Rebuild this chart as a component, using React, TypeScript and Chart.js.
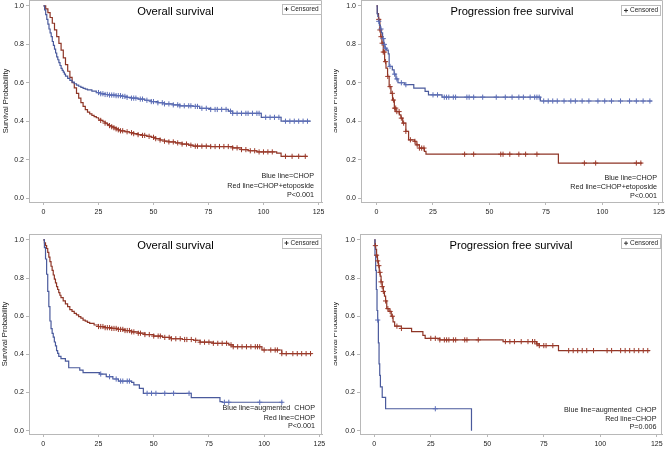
import React, { useEffect, useRef } from 'react';
import { Chart, registerables } from 'chart.js';

Chart.register(...registerables);

const FONT = "'Liberation Sans', Arial, Helvetica, sans-serif";
const BLUE = '#4a5a9c';
const BLUE_MARK = '#5d6fb8';
const RED = '#8e3526';
const RED_MARK = '#9c3a2a';
const AXIS = '#b8b8b8';
const TEXT = '#222222';

const xTicks = [0, 25, 50, 75, 100, 125];
const yTicks = [0, 0.2, 0.4, 0.6, 0.8, 1.0];

// ---- Panel A: Overall survival, CHOP (blue) vs CHOP+etoposide (red)
const osA_blueT = [0,0.5,1,1.5,2,2.5,3,3.5,4,4.5,5,5.5,6,6.5,7,7.5,8,8.5,9,9.5,10,11,12,13,14,15,16,17,18,19,20,22,24,26,28,30,33,36,38,40,43,46,49,52,55,59,62,68,71,76,84,86,99,108,121.5];
const osA_blueS = [1,0.98,0.955,0.93,0.905,0.88,0.86,0.84,0.815,0.795,0.775,0.755,0.735,0.72,0.705,0.69,0.675,0.665,0.655,0.645,0.635,0.623,0.612,0.603,0.595,0.588,0.582,0.576,0.571,0.567,0.563,0.556,0.549,0.543,0.539,0.536,0.533,0.529,0.524,0.52,0.515,0.509,0.502,0.496,0.49,0.485,0.48,0.477,0.467,0.461,0.452,0.441,0.42,0.40,0.40];
const osA_blueCens = [25,26,27,28,29,30,31,32,33,34,35,36,37,38,40,41,42,44,45,47,49,50,52,54,55,57,59,61,62,64,66,67,69,70,72,74,76,78,79,81,83,85,86,88,90,92,93,95,97,98,101,103,105,107,110,112,114,116,118,120];
const osA_redT = [0,1,2,3,4,5,6,7,8,9,10,11,12,13,14,15,16,17,18,19,20,21,22,23,24,25,26,27,28,29,30,31,32,33,34,35,37,39,41,43,45,47,49,51,53,55,57,60,63,66,68,76,86,90,93,97,106,108,120];
const osA_redS = [1,0.985,0.965,0.94,0.91,0.875,0.84,0.805,0.77,0.73,0.695,0.66,0.628,0.6,0.573,0.545,0.52,0.497,0.477,0.46,0.447,0.438,0.43,0.424,0.418,0.41,0.404,0.397,0.39,0.383,0.377,0.371,0.366,0.36,0.355,0.35,0.345,0.34,0.335,0.33,0.326,0.321,0.316,0.309,0.302,0.296,0.292,0.287,0.281,0.275,0.27,0.268,0.261,0.252,0.246,0.24,0.234,0.217,0.217];
const osA_redCens = [26,28,30,31,32,33,34,35,36,38,40,41,43,45,46,48,50,51,53,55,57,59,61,63,65,67,69,70,72,74,76,78,80,82,84,86,88,90,92,94,96,98,100,102,104,110,113,116,119];

// ---- Panel B: Progression free survival, CHOP (blue) vs CHOP+etoposide (red)
const pfsB_blueT = [0,0.3,0.6,0.9,1.3,1.7,2.2,2.7,3.2,3.7,4.5,5.2,5.6,7,7.8,8.6,9.5,12.5,16.5,21.5,23,29,72.5,122];
const pfsB_blueS = [1,0.96,0.945,0.92,0.9,0.88,0.86,0.83,0.8,0.78,0.77,0.75,0.685,0.667,0.645,0.62,0.6,0.59,0.572,0.555,0.537,0.525,0.505,0.505];
const pfsB_blueCens = [1,2,3,3.5,4,6,8,9,11,13,25,27,30,31,32,34,35,40,41,43,47,53,57,60,63,65,68,70,71,72,74,76,78,80,83,86,88,91,94,98,101,104,108,112,115,118,121];
const pfsB_redT = [0,0.4,0.9,1.5,1.9,2.4,3,3.6,4.2,4.9,5.6,6.4,7.1,7.9,8.6,10.1,10.8,11.6,13,14.2,16.8,17.5,19,21.2,21.9,80.5,117.6];
const pfsB_redS = [1,0.96,0.93,0.875,0.84,0.806,0.76,0.71,0.676,0.633,0.58,0.545,0.51,0.468,0.45,0.433,0.416,0.39,0.347,0.303,0.295,0.277,0.26,0.243,0.228,0.182,0.182];
const pfsB_redCens = [1,1.5,2,2.5,3,3.5,4,5,6,7,7.5,8,8.5,9,10,11,12,13,15,17,18,19,20,21,39,43,55,56,59,63,66,71,92,97,115,117];

// ---- Panel C: Overall survival, augmented CHOP (blue) vs CHOP (red)
const osC_blueT = [0,0.5,1,1.5,2,2.5,3,3.5,4,4.5,5,5.5,6,6.5,7,8,10,11.5,16.5,18,25.5,28.5,31.5,34,40,41,43.5,45.3,67,80,81,108.4];
const osC_blueS = [1,0.96,0.9,0.82,0.73,0.65,0.575,0.535,0.51,0.49,0.465,0.445,0.42,0.405,0.39,0.378,0.365,0.33,0.318,0.304,0.297,0.283,0.271,0.26,0.253,0.24,0.222,0.196,0.173,0.152,0.149,0.149];
const osC_blueCens = [26,30,33,35,36,38,39,47,49,51,55,59,66,82,84,98,108];
const osC_redT = [0,0.5,1,1.5,2,2.5,3,3.5,4,4.5,5,5.5,6,6.5,7,7.5,8,9,10,11,12,13,14,15,16,17,18,19,20,21,23,25,28,31,34,37,40,43,46,50,54,58,63,68,71,77,84,86,99,108,121.5];
const osC_redS = [1,0.985,0.97,0.955,0.935,0.91,0.886,0.862,0.84,0.816,0.795,0.775,0.755,0.74,0.724,0.71,0.698,0.68,0.665,0.65,0.635,0.625,0.615,0.607,0.598,0.59,0.58,0.574,0.568,0.563,0.554,0.546,0.54,0.536,0.531,0.525,0.518,0.511,0.504,0.496,0.489,0.482,0.478,0.474,0.464,0.458,0.45,0.44,0.423,0.404,0.404];
const osC_redCens = [25,26,27,28,29,30,31,32,33,34,35,36,37,38,39,40,41,43,44,46,48,50,52,53,55,57,58,60,62,64,65,67,69,71,73,75,77,79,81,83,85,86,88,90,92,94,96,97,98,100,103,105,106,108,110,113,115,117,119,121];

// ---- Panel D: Progression free survival, augmented CHOP (blue) vs CHOP (red)
const pfsD_blueT = [0,0.3,0.6,0.9,1.2,1.5,1.8,2.1,2.4,2.7,3.5,5,43];
const pfsD_blueS = [1,0.92,0.84,0.74,0.63,0.58,0.46,0.35,0.29,0.23,0.175,0.115,0];
const pfsD_blueCens = [1.5, 27];
const pfsD_redT = [0,0.3,0.6,1,1.4,1.8,2.2,2.6,3,3.5,4,4.5,5,5.5,6.5,7.5,8.3,9,12,16.5,21.5,22.5,29,57,71.8,73,81.5,122];
const pfsD_redS = [1,0.97,0.95,0.92,0.89,0.865,0.83,0.81,0.78,0.755,0.73,0.705,0.68,0.64,0.625,0.6,0.57,0.548,0.536,0.519,0.5,0.484,0.476,0.467,0.455,0.446,0.42,0.42];
const pfsD_redCens = [0.5,1,1.5,2,2.5,3,3.5,4,5,6,7,8,10,12,25,27,29,31,32,33,35,36,40,41,46,58,60,62,65,68,70,71,72,73,75,76,79,86,88,90,92,94,97,103,105,109,111,113,115,117,119,121];

const titleOS = 'Overall survival';
const titlePFS = 'Progression free survival';
const notesTop = ['Blue line=CHOP', 'Red line=CHOP+etoposide', 'P<0.001'];
const notesC = ['Blue line=augmented  CHOP', 'Red line=CHOP', 'P<0.001'];
const notesD = ['Blue line=augmented  CHOP', 'Red line=CHOP', 'P=0.006'];
const yTitle = 'Survival Probability';
const legendText = 'Censored';

function stepAt(t: number[], s: number[], x: number) {
  let v = s[0];
  for (let i = 0; i < t.length; i++) if (t[i] <= x) v = s[i];
  return v;
}

type Curve = { t: number[]; s: number[]; cens: number[]; color: string; mark: string };
type PanelCfg = {
  left: number; top: number; w: number; h: number;
  area: { l: number; t: number; r: number; b: number };
  xMin: number; xMax: number; yMin: number; yMax: number;
  title: string; titleDy: number;
  notes: string[]; noteRight: number; noteDy: number[];
  legendRight: number; legendTop: number;
  yTitleX: number;
  curves: Curve[];
};

const panels: PanelCfg[] = [
  {
    left: 0, top: 0, w: 334, h: 224, area: { l: 29, t: 0, r: 322, b: 202 },
    xMin: -6.59, xMax: 126.6, yMin: -0.0208, yMax: 1.031,
    title: titleOS, titleDy: 12.3, notes: notesTop, noteRight: 8, noteDy: [26, 16, 7],
    legendRight: 1.5, legendTop: 3.5, yTitleX: 5.5,
    curves: [
      { t: osA_blueT, s: osA_blueS, cens: osA_blueCens, color: BLUE, mark: BLUE_MARK },
      { t: osA_redT, s: osA_redS, cens: osA_redCens, color: RED, mark: RED_MARK },
    ],
  },
  {
    left: 334, top: 0, w: 331, h: 224, area: { l: 27, t: 0, r: 329, b: 202 },
    xMin: -6.86, xMax: 126.8, yMin: -0.0208, yMax: 1.031,
    title: titlePFS, titleDy: 12.3, notes: notesTop, noteRight: 6, noteDy: [24, 14.5, 6],
    legendRight: 3, legendTop: 5, yTitleX: 1,
    curves: [
      { t: pfsB_blueT, s: pfsB_blueS, cens: pfsB_blueCens, color: BLUE, mark: BLUE_MARK },
      { t: pfsB_redT, s: pfsB_redS, cens: pfsB_redCens, color: RED, mark: RED_MARK },
    ],
  },
  {
    left: 0, top: 224, w: 334, h: 225, area: { l: 29, t: 10, r: 322, b: 210 },
    xMin: -6.48, xMax: 126.2, yMin: -0.0173, yMax: 1.031,
    title: titleOS, titleDy: 11.7, notes: notesC, noteRight: 7, noteDy: [25.5, 16.2, 7.8],
    legendRight: 1.5, legendTop: 3.5, yTitleX: 5,
    curves: [
      { t: osC_blueT, s: osC_blueS, cens: osC_blueCens, color: BLUE, mark: BLUE_MARK },
      { t: osC_redT, s: osC_redS, cens: osC_redCens, color: RED, mark: RED_MARK },
    ],
  },
  {
    left: 334, top: 224, w: 331, h: 225, area: { l: 26, t: 10, r: 328, b: 210 },
    xMin: -6.33, xMax: 127.3, yMin: -0.0173, yMax: 1.031,
    title: titlePFS, titleDy: 11.7, notes: notesD, noteRight: 5.5, noteDy: [24, 15, 7],
    legendRight: 2, legendTop: 3.7, yTitleX: 1,
    curves: [
      { t: pfsD_blueT, s: pfsD_blueS, cens: pfsD_blueCens, color: BLUE, mark: BLUE_MARK },
      { t: pfsD_redT, s: pfsD_redS, cens: pfsD_redCens, color: RED, mark: RED_MARK },
    ],
  },
];

function Panel({ cfg }: { cfg: PanelCfg }) {
  const ref = useRef<HTMLCanvasElement>(null);
  useEffect(() => {
    const canvas = ref.current;
    if (!canvas) return;
    const datasets: any[] = [];
    cfg.curves.forEach((c) => {
      datasets.push({
        type: 'line',
        data: c.t.map((t, i) => ({ x: t, y: c.s[i] })),
        borderColor: c.color,
        borderWidth: 1.2,
        pointRadius: 0,
        stepped: 'before',
        fill: false,
        order: 2,
      });
      datasets.push({
        type: 'scatter',
        data: c.cens.map((t) => ({ x: t, y: stepAt(c.t, c.s, t) })),
        pointStyle: 'cross',
        pointRadius: 2.6,
        borderColor: c.mark,
        backgroundColor: c.mark,
        borderWidth: 1,
        order: 1,
      });
    });
    const a = cfg.area;
    const overlay = {
      id: 'overlay',
      afterDraw(chart: any) {
        const ctx = chart.ctx;
        const ca = chart.chartArea;
        ctx.save();
        ctx.strokeStyle = AXIS;
        ctx.lineWidth = 1;
        ctx.beginPath();
        ctx.moveTo(ca.left, ca.top + 0.5);
        ctx.lineTo(ca.right - 0.5, ca.top + 0.5);
        ctx.lineTo(ca.right - 0.5, ca.bottom);
        ctx.stroke();
        ctx.fillStyle = '#000';
        ctx.font = `11.2px ${FONT}`;
        ctx.textAlign = 'center';
        ctx.textBaseline = 'middle';
        ctx.fillText(cfg.title, (ca.left + ca.right) / 2, ca.top + cfg.titleDy);
        const bw = 39, bh = 10;
        const bx = ca.right - cfg.legendRight - bw;
        const by = ca.top + cfg.legendTop;
        ctx.fillStyle = '#fff';
        ctx.fillRect(bx, by, bw, bh);
        ctx.strokeStyle = '#bcbcbc';
        ctx.strokeRect(Math.round(bx) + 0.5, Math.round(by) + 0.5, bw, bh);
        ctx.strokeStyle = '#333';
        ctx.beginPath();
        ctx.moveTo(bx + 3, by + bh / 2 + 0.5);
        ctx.lineTo(bx + 7, by + bh / 2 + 0.5);
        ctx.moveTo(bx + 5, by + bh / 2 - 1.5);
        ctx.lineTo(bx + 5, by + bh / 2 + 2.5);
        ctx.stroke();
        ctx.fillStyle = '#222';
        ctx.font = `6.5px ${FONT}`;
        ctx.textAlign = 'left';
        ctx.fillText(legendText, bx + 9, by + bh / 2 + 0.5);
        ctx.font = `7.2px ${FONT}`;
        ctx.textAlign = 'right';
        ctx.fillStyle = TEXT;
        cfg.notes.forEach((n, i) => {
          ctx.fillText(n, ca.right - cfg.noteRight, ca.bottom - cfg.noteDy[i]);
        });
        ctx.translate(cfg.yTitleX, (ca.top + ca.bottom) / 2);
        ctx.rotate(-Math.PI / 2);
        ctx.font = `7.6px ${FONT}`;
        ctx.textAlign = 'center';
        ctx.textBaseline = 'middle';
        ctx.fillText(yTitle, 0, 0);
        ctx.restore();
      },
    };
    const zeroPad = (ax: any) => {
      ax.paddingLeft = 0;
      ax.paddingRight = 0;
      ax.paddingTop = 0;
      ax.paddingBottom = 0;
    };
    const chart = new Chart(canvas, {
      type: 'line',
      data: { datasets },
      options: {
        animation: false,
        responsive: false,
        devicePixelRatio: 1,
        layout: { padding: { left: 0, top: a.t, right: cfg.w - a.r, bottom: 0 }, autoPadding: false },
        plugins: { legend: { display: false }, tooltip: { enabled: false }, title: { display: false } },
        scales: {
          x: {
            type: 'linear',
            min: cfg.xMin,
            max: cfg.xMax,
            afterBuildTicks: (ax: any) => {
              ax.ticks = xTicks.map((v) => ({ value: v }));
            },
            afterFit: (ax: any) => {
              ax.height = cfg.h - a.b;
              zeroPad(ax);
            },
            grid: { display: true, drawOnChartArea: false, drawTicks: true, tickLength: 3, color: AXIS },
            border: { display: true, color: AXIS },
            ticks: {
              font: { family: FONT, size: 7 },
              color: TEXT,
              padding: 3,
              maxRotation: 0,
              autoSkip: false,
              callback: (v: any) => String(v),
            },
          },
          y: {
            type: 'linear',
            min: cfg.yMin,
            max: cfg.yMax,
            afterBuildTicks: (ax: any) => {
              ax.ticks = yTicks.map((v) => ({ value: v }));
            },
            afterFit: (ax: any) => {
              ax.width = a.l;
              zeroPad(ax);
            },
            grid: { display: true, drawOnChartArea: false, drawTicks: true, tickLength: 3, color: AXIS },
            border: { display: true, color: AXIS },
            ticks: {
              font: { family: FONT, size: 7 },
              color: TEXT,
              padding: 2,
              autoSkip: false,
              callback: (v: any) => Number(v).toFixed(1),
            },
          },
        },
      } as any,
      plugins: [overlay],
    });
    return () => chart.destroy();
  }, [cfg]);
  return (
    <canvas
      ref={ref}
      width={cfg.w}
      height={cfg.h}
      style={{ position: 'absolute', left: cfg.left, top: cfg.top, width: cfg.w, height: cfg.h }}
    />
  );
}

export default function App() {
  return (
    <div style={{ position: 'absolute', left: 0, top: 0, width: 665, height: 449, background: '#fff', overflow: 'hidden' }}>
      {panels.map((p, i) => (
        <Panel key={i} cfg={p} />
      ))}
    </div>
  );
}
